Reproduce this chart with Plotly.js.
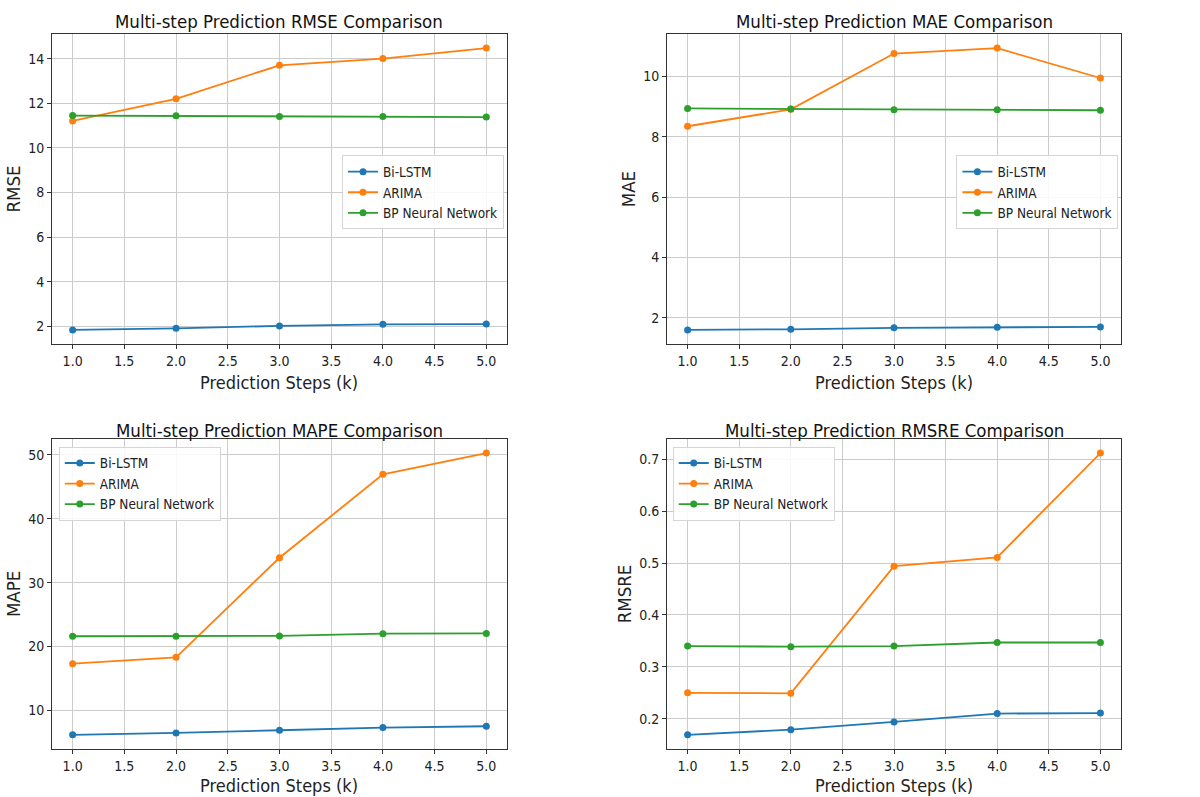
<!DOCTYPE html>
<html>
<head>
<meta charset="utf-8">
<script src="https://cdn.plot.ly/plotly-3.0.1.min.js"></script>
<style>html,body{margin:0;padding:0;background:#fff;}#chart{width:1200px;height:797px;}</style>
</head>
<body>
<div id="chart"></div>
<script>
const steps = [1, 2, 3, 4, 5];
const seriesNames = ["Bi-LSTM", "ARIMA", "BP Neural Network"];
const seriesColors = ["#1f77b4", "#ff7f0e", "#2ca02c"];

const rmseBiLSTM = [1.85, 1.92, 2.03, 2.10, 2.11];
const rmseARIMA  = [11.21, 12.20, 13.70, 14.00, 14.47];
const rmseBP     = [11.45, 11.44, 11.41, 11.41, 11.38];

const maeBiLSTM = [1.60, 1.62, 1.67, 1.69, 1.70];
const maeARIMA  = [8.35, 8.91, 10.76, 10.94, 9.95];
const maeBP     = [8.94, 8.92, 8.90, 8.90, 8.88];

const mapeBiLSTM = [6.15, 6.45, 6.87, 7.29, 7.50];
const mapeARIMA  = [17.31, 18.30, 33.90, 46.97, 50.30];
const mapeBP     = [21.60, 21.60, 21.65, 22.00, 22.05];

const rmsreBiLSTM = [0.169, 0.179, 0.194, 0.210, 0.211];
const rmsreARIMA  = [0.250, 0.249, 0.494, 0.511, 0.712];
const rmsreBP     = [0.340, 0.339, 0.340, 0.347, 0.347];

const metricNames = ["RMSE", "MAE", "MAPE", "RMSRE"];
const xTitle = "Prediction Steps (k)";
const titlePrefix = "Multi-step Prediction ";
const titleSuffix = " Comparison";

const metricData = [
  [rmseBiLSTM, rmseARIMA, rmseBP],
  [maeBiLSTM, maeARIMA, maeBP],
  [mapeBiLSTM, mapeARIMA, mapeBP],
  [rmsreBiLSTM, rmsreARIMA, rmsreBP]
];

const font = "'DejaVu Sans Condensed', 'Liberation Sans Narrow', 'DejaVu Sans', sans-serif";
const xDomains = [[0.0433, 0.4225], [0.5558, 0.9342], [0.0433, 0.4225], [0.5558, 0.9342]];
const yDomains = [[0.5684, 0.9573], [0.5684, 0.9573], [0.0603, 0.4492], [0.0603, 0.4492]];
const legendPos = [[0.285, 0.805], [0.797, 0.805], [0.049, 0.4395], [0.5606, 0.4395]];
const titleY = [0.9724, 0.9724, 0.4600, 0.4600];
const xTitleY = [0.5345, 0.5345, 0.0, 0.0];
const xTitleAnchor = ["top", "top", "bottom", "bottom"];
const yDtick = [2, 2, 10, 0.1];
const yFormat = ["d", "d", "d", ".1f"];

const traces = [];
const layout = {
  width: 1200, height: 797,
  margin: {l: 0, r: 0, t: 0, b: 0},
  paper_bgcolor: "#fff", plot_bgcolor: "#fff",
  font: {family: font, color: "#222", size: 13.5},
  annotations: [],
  showlegend: true
};

function pad(arrs) {
  let lo = Infinity, hi = -Infinity;
  arrs.forEach(a => a.forEach(v => { lo = Math.min(lo, v); hi = Math.max(hi, v); }));
  const m = (hi - lo) * 0.05;
  return [lo - m, hi + m];
}

for (let p = 0; p < 4; p++) {
  const n = p + 1;
  const xa = n === 1 ? "x" : "x" + n;
  const ya = n === 1 ? "y" : "y" + n;
  const lg = n === 1 ? "legend" : "legend" + n;
  for (let s = 0; s < 3; s++) {
    traces.push({
      x: steps, y: metricData[p][s], name: seriesNames[s],
      type: "scatter", mode: "lines+markers",
      line: {color: seriesColors[s], width: 1.8},
      marker: {color: seriesColors[s], size: 7},
      xaxis: xa, yaxis: ya, legend: lg
    });
  }
  const axCommon = {
    showline: true, mirror: true, linecolor: "#333", linewidth: 1,
    showgrid: true, gridcolor: "#cccccc", gridwidth: 1,
    zeroline: false, ticks: "outside", ticklen: 4, tickcolor: "#333",
    tickfont: {family: font, size: 14, color: "#222"}
  };
  layout["xaxis" + (n === 1 ? "" : n)] = Object.assign({}, axCommon, {
    domain: xDomains[p], anchor: ya, range: [0.8, 5.2],
    tick0: 1, dtick: 0.5, tickformat: ".1f"
  });
  layout["yaxis" + (n === 1 ? "" : n)] = Object.assign({}, axCommon, {
    domain: yDomains[p], anchor: xa, range: pad(metricData[p]),
    dtick: yDtick[p], tickformat: yFormat[p],
    title: {text: metricNames[p], font: {family: font, size: 18.5, color: "#222"}, standoff: 2}
  });
  layout[lg] = {
    x: legendPos[p][0], y: legendPos[p][1], xanchor: "left", yanchor: "top",
    xref: "paper", yref: "paper",
    bgcolor: "rgba(255,255,255,0.85)", bordercolor: "#d5d5d5", borderwidth: 1,
    font: {family: font, size: 13.5, color: "#222"},
    tracegroupgap: 0, itemwidth: 30
  };
  const cx = (xDomains[p][0] + xDomains[p][1]) / 2;
  layout.annotations.push({
    text: titlePrefix + metricNames[p] + titleSuffix,
    x: cx, y: titleY[p],
    xref: "paper", yref: "paper", xanchor: "center", yanchor: "middle",
    showarrow: false, font: {family: font, size: 18.5, color: "#111"}
  });
  layout.annotations.push({
    text: xTitle,
    x: cx, y: xTitleY[p],
    xref: "paper", yref: "paper", xanchor: "center", yanchor: xTitleAnchor[p],
    showarrow: false, borderpad: 0, font: {family: font, size: 18, color: "#222"}
  });
}

Plotly.newPlot("chart", traces, layout, {displayModeBar: false, staticPlot: true});
</script>
</body>
</html>
